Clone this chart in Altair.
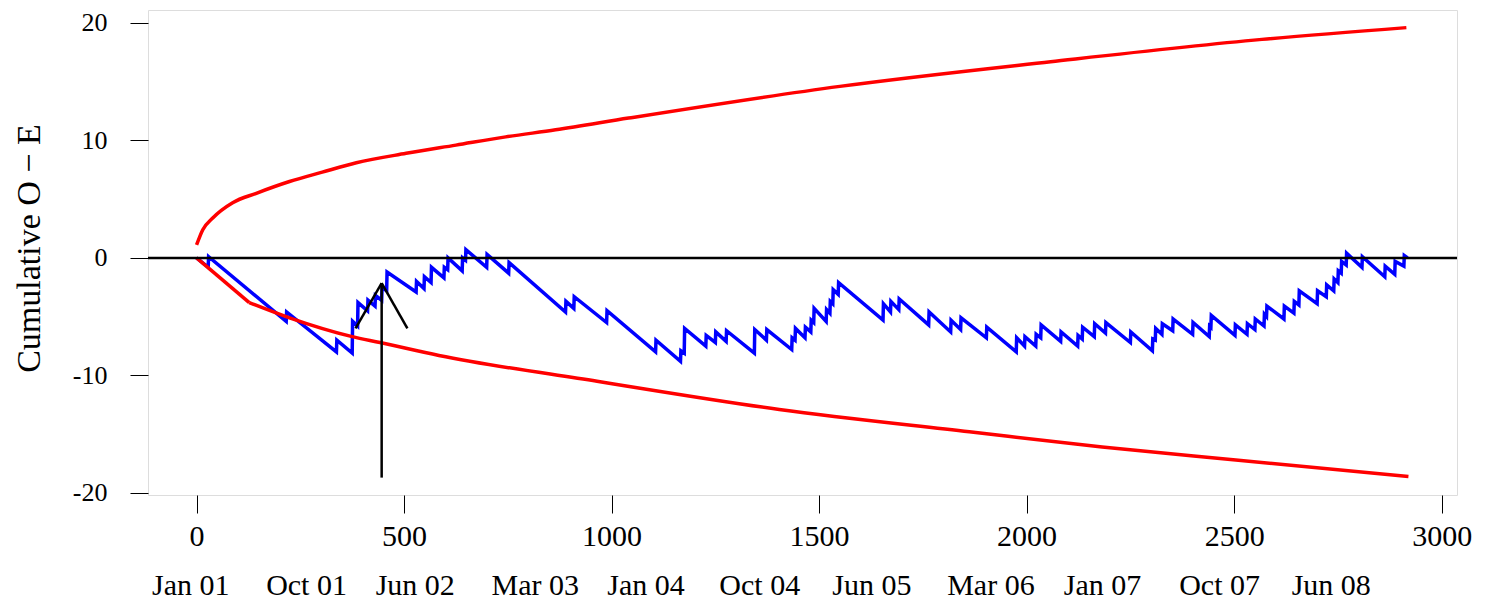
import altair as alt
import pandas as pd

# Blue cumulative O - E path (day, value)
blue_x = [0, 28, 29, 216, 217, 337, 338, 375, 376, 388, 389, 412, 413, 430, 431, 446, 447,
          458, 459, 529, 530, 548, 549, 565, 566, 596, 597, 605, 606, 640, 641, 648, 649,
          699, 700, 752, 753, 889, 890, 909, 910, 988, 989, 1106, 1107, 1166, 1167, 1175,
          1176, 1227, 1228, 1250, 1251, 1276, 1277, 1344, 1345, 1373, 1374, 1434, 1435,
          1442, 1443, 1466, 1467, 1480, 1481, 1487, 1488, 1517, 1518, 1526, 1527, 1533,
          1534, 1546, 1547, 1654, 1655, 1672, 1673, 1692, 1693, 1764, 1765, 1817, 1818,
          1841, 1842, 1903, 1904, 1975, 1976, 1995, 1996, 2022, 2023, 2034, 2035, 2082,
          2083, 2123, 2124, 2134, 2135, 2163, 2164, 2190, 2191, 2250, 2251, 2303, 2304,
          2310, 2311, 2326, 2327, 2352, 2353, 2400, 2401, 2440, 2441, 2444, 2445, 2502,
          2503, 2531, 2532, 2550, 2551, 2572, 2573, 2578, 2579, 2620, 2621, 2644, 2645,
          2656, 2657, 2700, 2701, 2722, 2723, 2740, 2741, 2750, 2751, 2758, 2759, 2770,
          2771, 2808, 2809, 2863, 2864, 2887, 2888, 2909, 2910, 2918]
blue_y = [0, -0.8, 0.1, -5.4, -4.6, -8.0, -7.0, -8.1, -5.4, -5.8, -3.8, -4.5, -3.6, -4.1, -3.2, -3.6, -2.5,
          -2.8, -1.2, -2.9, -2.0, -2.6, -1.6, -2.1, -0.8, -1.7, -0.8, -1.0, 0.0, -1.1, 0.0, -0.2, 0.7,
          -0.8, 0.3, -1.3, -0.4, -4.6, -3.7, -4.3, -3.3, -5.5, -4.5, -8.0, -7.0, -8.8, -7.9, -8.1,
          -6.0, -7.5, -6.6, -7.2, -6.3, -7.1, -6.2, -8.1, -6.1, -7.0, -6.1, -7.8, -6.8,
          -7.0, -6.0, -6.8, -5.9, -6.3, -5.3, -5.5, -4.3, -5.4, -4.4, -4.7, -3.7, -3.9,
          -2.7, -3.1, -2.1, -5.3, -3.9, -4.6, -3.7, -4.4, -3.5, -5.7, -4.6, -6.3, -5.3,
          -6.1, -5.1, -6.8, -5.9, -8.0, -6.8, -7.5, -6.7, -7.5, -6.5, -6.8, -5.7, -7.1,
          -6.3, -7.5, -6.6, -6.9, -5.9, -6.7, -5.6, -6.4, -5.5, -7.2, -6.3, -7.9, -6.9,
          -7.0, -6.0, -6.5, -5.6, -6.2, -5.2, -6.5, -5.5, -6.7, -5.8, -5.9, -4.9, -6.6,
          -5.7, -6.5, -5.6, -6.1, -5.2, -5.8, -4.8, -5.0, -4.1, -5.2, -4.1, -4.7, -3.7,
          -4.0, -2.8, -3.9, -2.8, -3.3, -2.3, -2.8, -1.8, -2.1, -1.1, -1.3, -0.3, -0.6,
          0.4, -0.8, 0.1, -1.6, -0.7, -1.4, -0.3, -0.7, 0.2, 0.0]

# Red control limits
upper_x = [0, 15, 39, 87, 144, 224, 303, 385, 505, 625, 745, 865, 1041, 1550, 2058, 2567, 2915]
upper_y = [1.1, 2.4, 3.4, 4.7, 5.5, 6.5, 7.3, 8.1, 8.9, 9.6, 10.3, 10.9, 11.9, 14.6, 16.7, 18.6, 19.6]
lower_x = [0, 127, 224, 375, 442, 584, 965, 1404, 1862, 2182, 2504, 2920]
lower_y = [0, -3.8, -5.1, -6.7, -7.2, -8.3, -10.5, -12.9, -14.8, -16.1, -17.2, -18.6]

# Axis ticks
x_ticks = [0, 500, 1000, 1500, 2000, 2500, 3000]
y_ticks = [-20, -10, 0, 10, 20]

# Date labels under the axis (day positions)
date_labels = ["Jan 01", "Oct 01", "Jun 02", "Mar 03", "Jan 04", "Oct 04",
               "Jun 05", "Mar 06", "Jan 07", "Oct 07", "Jun 08"]
date_pos = [-14, 265, 527, 816, 1083, 1357, 1627, 1914, 2183, 2465, 2734]

# Arrow annotation segments
arrow_x = [446, 446, 446]
arrow_y = [-18.7, -2.15, -2.15]
arrow_x2 = [446, 383, 508]
arrow_y2 = [-2.15, -6.0, -6.0]

FONT = "Liberation Serif"
W, H = 1309, 485

xs = alt.Scale(domain=[-117, 3037], nice=False, zero=False)
ys = alt.Scale(domain=[-20.18, 21.1], nice=False, zero=False)

xaxis = alt.Axis(values=x_ticks, title=None, grid=False, domain=False, tickSize=18,
                 tickColor="black", labelColor="black", labelFont=FONT, labelFontSize=30,
                 labelPadding=8, labelFlush=False, labelOverlap=False,
                 labelExpr="'' + datum.value")
yaxis = alt.Axis(values=y_ticks, title="Cumulative O \u2212 E", grid=False, domain=False,
                 tickSize=18, tickColor="black", labelColor="black", labelFont=FONT,
                 labelFontSize=26, labelPadding=23, labelFlush=False, labelOverlap=False,
                 labelExpr="'' + datum.value",
                 titleFont=FONT, titleFontSize=34, titleFontWeight="normal", titleColor="black",
                 titleAngle=270, titleX=-119, titleY=238, titleAlign="center",
                 titleBaseline="middle")

X = alt.X("x:Q", scale=xs, axis=xaxis)
Y = alt.Y("y:Q", scale=ys, axis=yaxis)

blue_df = pd.DataFrame({"x": blue_x, "y": blue_y, "i": range(len(blue_x))})
upper_df = pd.DataFrame({"x": upper_x, "y": upper_y, "i": range(len(upper_x))})
lower_a_df = pd.DataFrame({"x": lower_x[:2], "y": lower_y[:2], "i": range(2)})
lower_b_df = pd.DataFrame({"x": lower_x[1:], "y": lower_y[1:], "i": range(len(lower_x) - 1)})
zero_df = pd.DataFrame({"y": [0]})
arrow_df = pd.DataFrame({"x": arrow_x, "y": arrow_y, "x2": arrow_x2, "y2": arrow_y2})
date_df = pd.DataFrame({"x": date_pos, "label": date_labels})

RED = "#FF0000"
blue = alt.Chart(blue_df).mark_line(color="#0000FF", strokeWidth=3.5).encode(
    x=X, y=Y, order="i:Q")
upper = alt.Chart(upper_df).mark_line(color=RED, strokeWidth=3.5, interpolate="monotone").encode(
    x=X, y=Y, order="i:Q")
lower_a = alt.Chart(lower_a_df).mark_line(color=RED, strokeWidth=3.5).encode(
    x=X, y=Y, order="i:Q")
lower_b = alt.Chart(lower_b_df).mark_line(color=RED, strokeWidth=3.5, interpolate="monotone").encode(
    x=X, y=Y, order="i:Q")
zero = alt.Chart(zero_df).mark_rule(color="black", strokeWidth=2.5).encode(y=Y)
arrow = alt.Chart(arrow_df).mark_rule(color="black", strokeWidth=2.5).encode(
    x=X, y=Y, x2="x2:Q", y2="y2:Q")
dates = alt.Chart(date_df).mark_text(font=FONT, fontSize=30, color="black",
                                     baseline="middle", align="center").encode(
    x=X, y=alt.value(576), text="label:N")

chart = alt.layer(blue, upper, lower_a, lower_b, zero, arrow, dates).properties(
    width=W, height=H,
    autosize=alt.AutoSizeParams(type="none"),
    padding={"left": 140, "top": 2, "right": 26, "bottom": 107},
).configure_view(stroke="#333333", strokeWidth=1).configure(background="white")

chart.save("out.html", embed_options={"renderer": "svg", "actions": False})
